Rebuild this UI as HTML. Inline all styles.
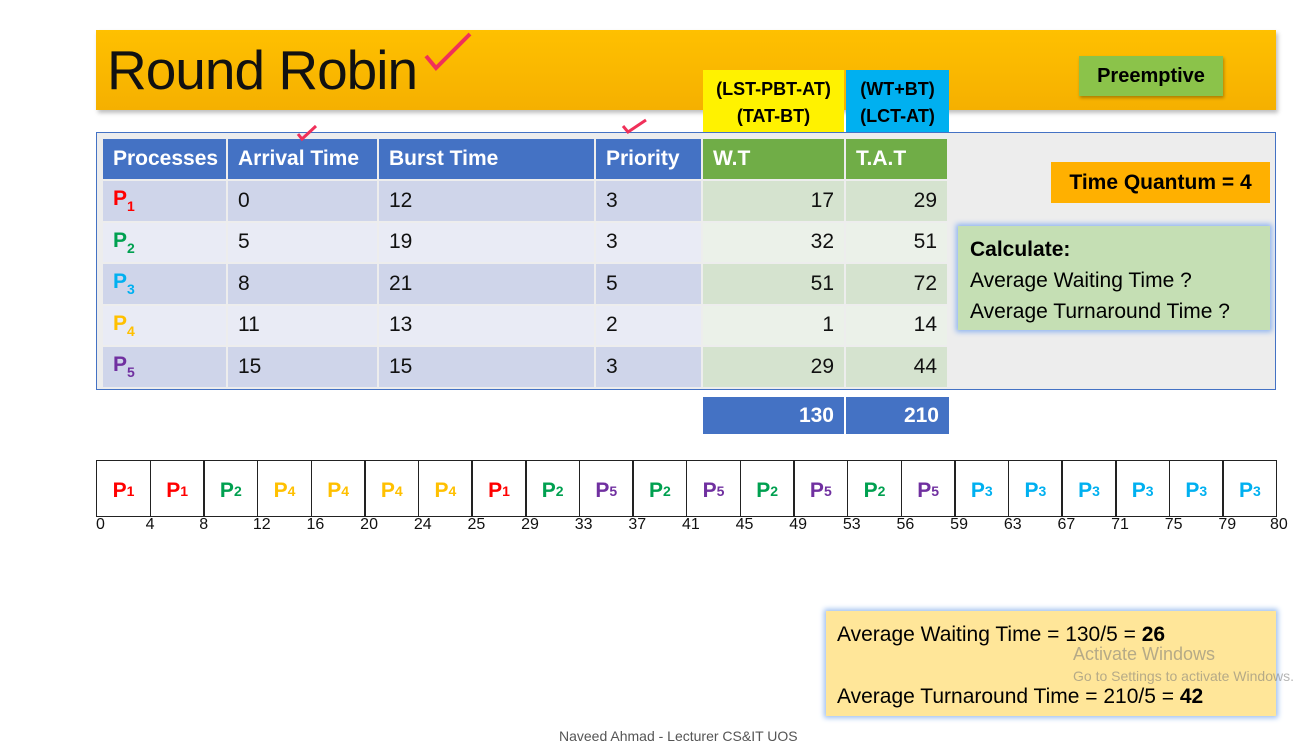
<!DOCTYPE html>
<html><head><meta charset="utf-8"><style>
body{margin:0;width:1314px;height:747px;background:#fff;position:relative;overflow:hidden;font-family:"Liberation Sans","DejaVu Sans",sans-serif;}
.a{position:absolute;box-sizing:border-box;}
.cell{position:absolute;box-sizing:border-box;font-size:21px;padding-left:10px;display:flex;align-items:center;color:#111;}
.h{background:#4472C4;color:#fff;font-weight:bold;font-size:21px;}
.g{background:#70AD47;color:#fff;font-weight:bold;font-size:21px;}
.r{justify-content:flex-end;padding-right:10px;padding-left:0}
sub{font-size:14px;vertical-align:-6px;}
.pl{font-weight:bold;}
</style></head><body>
<div class="a" style="left:96px;top:30px;width:1180px;height:80px;background:linear-gradient(#FFC000,#F5B000);box-shadow:2px 3px 4px rgba(0,0,0,.25)"></div>
<div class="a" style="left:107px;top:38px;font-size:55px;letter-spacing:-1px;color:#111">Round Robin</div>
<svg class="a" style="left:420px;top:30px" width="60" height="45"><path d="M6 26 L16 38 L50 4" stroke="#f0305a" stroke-width="4" fill="none"/></svg>
<div class="a" style="left:1079px;top:56px;width:144px;height:40px;background:#8BC34A;font-weight:bold;font-size:20px;display:flex;align-items:center;justify-content:center;box-shadow:1px 2px 3px rgba(0,0,0,.3)">Preemptive</div>
<div class="a" style="left:703px;top:70px;width:141px;height:66px;background:#FFF200;font-weight:bold;font-size:18px;text-align:center;line-height:27px;padding-top:6px">(LST-PBT-AT)<br>(TAT-BT)</div>
<div class="a" style="left:846px;top:70px;width:103px;height:66px;background:#00B0F0;font-weight:bold;font-size:18px;text-align:center;line-height:27px;padding-top:6px">(WT+BT)<br>(LCT-AT)</div>
<div class="a" style="left:96px;top:132px;width:1180px;height:258px;background:#EDEDED;border:1px solid #4472C4"></div>
<div class="a" style="left:1051px;top:162px;width:219px;height:41px;background:#FFB000;font-weight:bold;font-size:21px;display:flex;align-items:center;justify-content:center">Time Quantum = 4</div>
<div class="a" style="left:958px;top:226px;width:312px;height:104px;background:#C5DFB4;box-shadow:0 0 5px 2px #8fb4f0;font-size:21px;padding:8px 0 0 12px;line-height:31px"><b>Calculate:</b><br>Average Waiting Time ?<br>Average Turnaround Time ?</div>
<div id="tbl"></div>
<div class="cell h r" style="left:703px;top:397px;width:141px;height:37px">130</div>
<div class="cell h r" style="left:846px;top:397px;width:103px;height:37px">210</div>
<svg class="a" style="left:296px;top:122px" width="24" height="20"><path d="M2 12 L6 17 L20 4" stroke="#f0305a" stroke-width="3" fill="none"/></svg>
<svg class="a" style="left:620px;top:116px" width="30" height="20"><path d="M3 10 L8 16 L26 4" stroke="#f0305a" stroke-width="3" fill="none"/></svg>
<div id="gantt"></div>
<div class="a" style="left:826px;top:611px;width:450px;height:105px;background:#FFE699;box-shadow:0 0 5px 2px #9fc0f0;font-size:21px;padding:8px 0 0 11px;line-height:31px">Average Waiting Time = 130/5 = <b>26</b><br><br>Average Turnaround Time = 210/5 = <b>42</b></div>
<div class="a" style="left:1073px;top:644px;color:rgba(120,120,120,.55);font-size:18px">Activate Windows</div>
<div class="a" style="left:1073px;top:668px;color:rgba(120,120,120,.55);font-size:14px;white-space:nowrap">Go to Settings to activate Windows.</div>
<div class="a" style="left:559px;top:728px;color:#555;font-size:14px">Naveed Ahmad - Lecturer CS&amp;IT UOS</div>
<script>
const procColors=["#FF0000","#00A050","#00B0F0","#FFC000","#7030A0"];
const arrival=[0,5,8,11,15];
const burst=[12,19,21,13,15];
const priority=[3,3,5,2,3];
const wt=[17,32,51,1,29];
const tat=[29,51,72,14,44];
const ganttProcs=[1,1,2,4,4,4,4,1,2,5,2,5,2,5,2,5,3,3,3,3,3,3];
const ganttTicks=[0,4,8,12,16,20,24,25,29,33,37,41,45,49,53,56,59,63,67,71,75,79,80];
const tbl=document.getElementById('tbl');
const colX=[103,228,379,596,703,846,949];
const headers=["Processes","Arrival Time","Burst Time","Priority","W.T","T.A.T"];
function mk(cls,x,y,w,h,html,name){const d=document.createElement('div');d.className='cell '+cls;d.style.cssText=`left:${x}px;top:${y}px;width:${w}px;height:${h}px`;d.innerHTML=html;


tbl.appendChild(d);}
headers.forEach((t,i)=>mk(i>=4?'g':'h',colX[i],139,colX[i+1]-colX[i]-2,40,t,'header-'+t.toLowerCase().replace(/[^a-z]+/g,'-')));
const rowTop=180,rowH=41.5;
for(let r=0;r<5;r++){const y=rowTop+r*rowH,h=rowH-2;const even=r%2==0;
const bg=even?'#CFD5EA':'#E9EBF5',bg2=even?'#D5E3CF':'#EBF1E9';
const vals=[`<span class="pl" style="color:${procColors[r]}">P<sub>${r+1}</sub></span>`,arrival[r],burst[r],priority[r],wt[r],tat[r]];
vals.forEach((v,i)=>{mk(i>=4?'r':'',colX[i],y+1,colX[i+1]-colX[i]-2,h,v,'cell-p'+(r+1)+'-'+headers[i].toLowerCase().replace(/[^a-z]+/g,'-'));
tbl.lastChild.style.background=i>=4?bg2:bg;});}
const g=document.getElementById('gantt');
const gx0=96,gx1=1276,gy=460,gh=57,cw=(gx1-gx0)/ganttProcs.length;
ganttProcs.forEach((p,i)=>{const d=document.createElement('div');d.className='a';
d.style.cssText=`left:${gx0+i*cw}px;top:${gy}px;width:${cw+1.5}px;height:${gh}px;border:1.5px solid #222;display:flex;align-items:center;justify-content:center;font-weight:bold;font-size:21px;color:${procColors[p-1]};padding-top:4px`;
d.innerHTML=`P<sub>${p}</sub>`;


g.appendChild(d);});
ganttTicks.forEach((t,i)=>{const d=document.createElement('div');d.className='a';
const x=gx0+i*cw;d.style.cssText=`left:${i==0?x:x-4}px;top:${gy+gh-1}px;font-size:16px;color:#111`;
if(i==ganttTicks.length-1)d.style.left=(x-6)+'px';
d.textContent=t;


g.appendChild(d);});
</script>
</body></html>
